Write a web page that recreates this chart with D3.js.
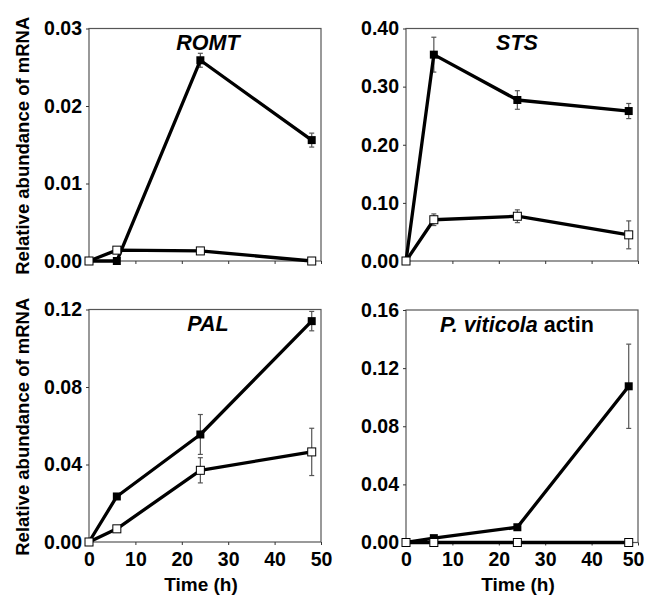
<!DOCTYPE html>
<html>
<head>
<meta charset="utf-8">
<script src="https://cdn.jsdelivr.net/npm/d3@7"></script>
<style>
  body { margin: 0; background: #fff; }
  svg { display: block; font-family: "Liberation Sans", Arial, sans-serif; font-weight: bold; }
</style>
</head>
<body>
<svg id="chart"></svg>
<script>
// Sampling times (h)
const times = [0, 6, 24, 48];

// ROMT
const romtInoc = [0, 0, 0.0259, 0.0156];
const romtInocErr = [0, 0, 0.0009, 0.0009];
const romtCtrl = [0, 0.0014, 0.0013, 0];
const romtCtrlErr = [0, 0, 0, 0];

// STS
const stsInoc = [0, 0.355, 0.277, 0.258];
const stsInocErr = [0, 0.03, 0.016, 0.013];
const stsCtrl = [0, 0.071, 0.077, 0.045];
const stsCtrlErr = [0, 0.01, 0.011, 0.024];

// PAL
const palInoc = [0, 0.0235, 0.0555, 0.114];
const palInocErr = [0, 0, 0.0103, 0.005];
const palCtrl = [0, 0.0068, 0.037, 0.0465];
const palCtrlErr = [0, 0, 0.0065, 0.0122];

// P. viticola actin
const actinInoc = [0, 0.003, 0.0105, 0.1075];
const actinInocErr = [0, 0, 0, 0.029];
const actinCtrl = [0, 0, 0, 0];
const actinCtrlErr = [0, 0, 0, 0];

const xTicks = [0, 10, 20, 30, 40, 50];
const romtTicks = [0, 0.01, 0.02, 0.03];
const stsTicks = [0, 0.1, 0.2, 0.3, 0.4];
const palTicks = [0, 0.04, 0.08, 0.12];
const actinTicks = [0, 0.04, 0.08, 0.12, 0.16];

const width = 647, height = 596;
const svg = d3.select('#chart').attr('width', width).attr('height', height);

const panels = [
  { title: [['ROMT', true]], ticks: romtTicks, fmt: '.2f', inoc: romtInoc, inocErr: romtInocErr, ctrl: romtCtrl, ctrlErr: romtCtrlErr,
    x0: 89, y0: 28.5, ylabel: true, xlabels: false },
  { title: [['STS', true]], ticks: stsTicks, fmt: '.2f', inoc: stsInoc, inocErr: stsInocErr, ctrl: stsCtrl, ctrlErr: stsCtrlErr,
    x0: 406, y0: 28.5, ylabel: false, xlabels: false },
  { title: [['PAL', true]], ticks: palTicks, fmt: '.2f', inoc: palInoc, inocErr: palInocErr, ctrl: palCtrl, ctrlErr: palCtrlErr,
    x0: 89, y0: 309.5, ylabel: true, xlabels: true },
  { title: [['P. viticola', true], [' actin', false]], ticks: actinTicks, fmt: '.2f', inoc: actinInoc, inocErr: actinInocErr, ctrl: actinCtrl, ctrlErr: actinCtrlErr,
    x0: 406, y0: 310, ylabel: false, xlabels: true }
];

const pw = 232, ph = 232.5;
const tickFont = '19.5px';

panels.forEach(p => {
  const x = d3.scaleLinear().domain([0, 50]).range([p.x0, p.x0 + pw]);
  const y = d3.scaleLinear().domain([0, d3.max(p.ticks)]).range([p.y0 + ph, p.y0]);
  const g = svg.append('g');

  // frame
  g.append('rect')
    .attr('x', p.x0).attr('y', p.y0)
    .attr('width', pw).attr('height', ph)
    .attr('fill', 'none').attr('stroke', '#555').attr('stroke-width', 1.2);

  // y axis
  const ya = g.append('g')
    .attr('transform', `translate(${p.x0},0)`)
    .call(d3.axisLeft(y).tickValues(p.ticks).tickFormat(d3.format(p.fmt)).tickSize(3).tickSizeOuter(0));
  ya.select('.domain').remove();
  ya.selectAll('line').attr('stroke', '#333');
  ya.selectAll('text').attr('font-size', tickFont).attr('fill', '#000').attr('dx', '-1px')
    .style('font-family', '"Liberation Sans", Arial, sans-serif').style('font-weight', 'bold');

  // x axis
  const xa = g.append('g')
    .attr('transform', `translate(0,${p.y0 + ph})`)
    .call(d3.axisBottom(x).tickValues(xTicks).tickFormat(p.xlabels ? d3.format('d') : () => '').tickSize(3).tickSizeOuter(0));
  xa.select('.domain').remove();
  xa.selectAll('line').attr('stroke', '#333');
  xa.selectAll('text').attr('font-size', tickFont).attr('fill', '#000').attr('dy', '0.9em')
    .style('font-family', '"Liberation Sans", Arial, sans-serif').style('font-weight', 'bold');
  // keep the last label of the right-hand panel inside the page
  if (p.x0 > 200) xa.selectAll('text').filter(d => d === 50).attr('dx', '-5px');

  const line = d3.line().x((d, i) => x(times[i])).y(d => y(d));

  // error bars
  [[p.inoc, p.inocErr], [p.ctrl, p.ctrlErr]].forEach(([vals, errs]) => {
    const eb = g.append('g').attr('stroke', '#555').attr('stroke-width', 1.2);
    vals.forEach((v, i) => {
      if (!errs[i]) return;
      const cx = x(times[i]);
      eb.append('line').attr('x1', cx).attr('x2', cx).attr('y1', y(v - errs[i])).attr('y2', y(v + errs[i]));
      eb.append('line').attr('x1', cx - 2.5).attr('x2', cx + 2.5).attr('y1', y(v - errs[i])).attr('y2', y(v - errs[i]));
      eb.append('line').attr('x1', cx - 2.5).attr('x2', cx + 2.5).attr('y1', y(v + errs[i])).attr('y2', y(v + errs[i]));
    });
  });

  // lines
  [p.inoc, p.ctrl].forEach(vals => {
    g.append('path').datum(vals)
      .attr('d', line)
      .attr('fill', 'none').attr('stroke', '#000').attr('stroke-width', 3.3)
      .attr('stroke-linejoin', 'round');
  });

  // markers
  const ms = 8;
  g.selectAll(null).data(p.inoc).join('rect')
    .attr('x', (d, i) => x(times[i]) - ms / 2).attr('y', d => y(d) - ms / 2)
    .attr('width', ms).attr('height', ms)
    .attr('fill', '#000');
  g.selectAll(null).data(p.ctrl).join('rect')
    .attr('x', (d, i) => x(times[i]) - ms / 2).attr('y', d => y(d) - ms / 2)
    .attr('width', ms).attr('height', ms)
    .attr('fill', '#fff').attr('stroke', '#000').attr('stroke-width', 1);

  // title
  const t = g.append('text')
    .attr('x', p.x0 + (p.x0 < 200 ? 119 : 111)).attr('y', p.y0 + 21.5)
    .attr('text-anchor', 'middle').attr('font-size', '21.5px');
  p.title.forEach(([s, it]) => t.append('tspan').text(s).attr('font-style', it ? 'italic' : 'normal'));

  if (p.ylabel) {
    g.append('text')
      .attr('transform', `translate(23,${p.y0 + ph / 2 + 1}) rotate(-90)`)
      .attr('text-anchor', 'middle').attr('dy', '0.35em')
      .attr('font-size', '18.5px')
      .text('Relative abundance of mRNA');
  }
  if (p.xlabels) {
    g.append('text')
      .attr('x', p.x0 + pw / 2 - 4).attr('y', 591)
      .attr('text-anchor', 'middle')
      .attr('font-size', '19px')
      .text('Time (h)');
  }
});
</script>
</body>
</html>
